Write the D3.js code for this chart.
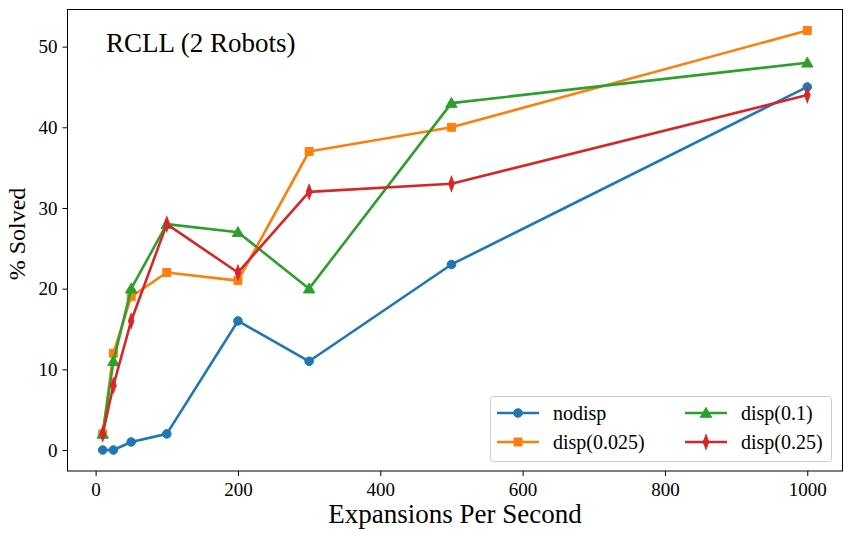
<!DOCTYPE html>
<html><head><meta charset="utf-8">
<script src="https://cdn.jsdelivr.net/npm/d3@7"></script>
<style>
body{margin:0;background:#fff;}
svg text{font-family:"Liberation Serif",serif !important;fill:#000;}
</style></head>
<body><svg id="c" width="852" height="537"></svg>
<script>
const xs = [10, 25, 50, 100, 200, 300, 500, 1000];
const nodisp = [0, 0, 1, 2, 16, 11, 23, 45];
const disp0025 = [2, 12, 19, 22, 21, 37, 40, 52];
const disp01 = [2, 11, 20, 28, 27, 20, 43, 48];
const disp025 = [2, 8, 16, 28, 22, 32, 33, 44];
const seriesNames = ["nodisp", "disp(0.025)", "disp(0.1)", "disp(0.25)"];
const xTicks = [0, 200, 400, 600, 800, 1000];
const yTicks = [0, 10, 20, 30, 40, 50];

const series = [
  {name: seriesNames[0], vals: nodisp, color: "#1f77b4", marker: "circle"},
  {name: seriesNames[1], vals: disp0025, color: "#ff7f0e", marker: "square"},
  {name: seriesNames[2], vals: disp01, color: "#2ca02c", marker: "triangle"},
  {name: seriesNames[3], vals: disp025, color: "#d62728", marker: "diamond"}
];

const L = 67.5, R = 842.5, T = 9.5, B = 471;
const svg = d3.select("#c");
const x = d3.scaleLinear().domain([-39.5, 1049.5]).range([L, R]);
const y = d3.scaleLinear().domain([-2.6, 54.6]).range([B, T]);

function sym(type){
  const m = {circle:[d3.symbolCircle, 58], square:[d3.symbolSquare, 64], triangle:[d3.symbolTriangle, 56], diamond:[d3.symbolDiamond, 52]};
  return d3.symbol().type(m[type][0]).size(m[type][1])();
}
function drawMarker(g, type, cx, cy, color){
  const p = g.append("path").attr("d", sym(type)).attr("fill", color).attr("stroke", color).attr("stroke-width", 1);
  if (type === "diamond") p.attr("transform", `translate(${cx},${cy}) scale(0.75,1.15)`);
  else if (type === "triangle") p.attr("transform", `translate(${cx},${cy+1})`);
  else p.attr("transform", `translate(${cx},${cy})`);
}

const plot = svg.append("g");
const line = d3.line().x((d,i)=>x(xs[i])).y(d=>y(d));
series.forEach(s=>{
  plot.append("path").attr("d", line(s.vals)).attr("fill","none").attr("stroke", s.color).attr("stroke-width", 2.6).attr("stroke-linejoin","round");
  s.vals.forEach((v,i)=>drawMarker(plot, s.marker, x(xs[i]), y(v), s.color));
});

// axes
const xa = svg.append("g").attr("transform", `translate(0,${B})`).call(d3.axisBottom(x).tickValues(xTicks).tickSize(5).tickPadding(5).tickFormat(d3.format("d")));
const ya = svg.append("g").attr("transform", `translate(${L},0)`).call(d3.axisLeft(y).tickValues(yTicks).tickSize(5).tickPadding(5).tickFormat(d3.format("d")));
[xa, ya].forEach(a=>{
  a.attr("font-family", null).attr("font-size", null);
  a.select(".domain").remove();
  a.selectAll("line").attr("stroke","#000").attr("stroke-width",1);
  a.selectAll("text").style("font-size","19px");
});
xa.selectAll("text").attr("dy","0.8em");

svg.append("rect").attr("x", L).attr("y", T).attr("width", R-L).attr("height", B-T).attr("fill","none").attr("stroke","#000").attr("stroke-width",1);

svg.append("text").attr("x", 106).attr("y", 52).style("font-size","27px").text("RCLL (2 Robots)");
svg.append("text").attr("x", (L+R)/2).attr("y", 523).attr("text-anchor","middle").style("font-size","27px").text("Expansions Per Second");
svg.append("text").attr("transform", `translate(25,234) rotate(-90)`).attr("text-anchor","middle").style("font-size","24px").text("% Solved");

// legend
const lg = svg.append("g");
lg.append("rect").attr("x", 490.5).attr("y", 396.5).attr("width", 341).attr("height", 65).attr("rx", 3).attr("fill","#fff").attr("fill-opacity",0.8).attr("stroke","#ccc");
const pos = [[497, 413], [497, 442], [685, 413], [685, 442]];
series.forEach((s,i)=>{
  const [lx, ly] = pos[i];
  lg.append("line").attr("x1", lx).attr("x2", lx+42).attr("y1", ly).attr("y2", ly).attr("stroke", s.color).attr("stroke-width", 2.6);
  drawMarker(lg, s.marker, lx+21, ly, s.color);
  lg.append("text").attr("x", lx+56).attr("y", ly).attr("dy","0.35em").style("font-size","20px").text(s.name);
});
</script></body></html>
